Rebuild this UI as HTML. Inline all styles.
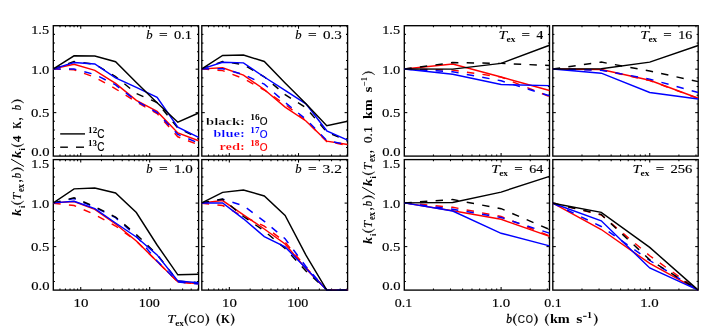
<!DOCTYPE html>
<html><head><meta charset="utf-8"><title>Chart</title>
<style>html,body{margin:0;padding:0;background:#fff;}svg{display:block;font-family:"Liberation Serif",serif;will-change:transform;}</style>
</head><body>
<svg width="709" height="334" viewBox="0 0 709 334" font-family="'Liberation Serif', serif">
<rect width="709" height="334" fill="#fff"/>
<defs>
<clipPath id="cL00"><rect x="53.00" y="25.70" width="145.90" height="131.30"/></clipPath>
<clipPath id="cL01"><rect x="201.50" y="25.70" width="146.40" height="131.30"/></clipPath>
<clipPath id="cL10"><rect x="53.00" y="159.60" width="145.90" height="131.40"/></clipPath>
<clipPath id="cL11"><rect x="201.50" y="159.60" width="146.40" height="131.40"/></clipPath>
<clipPath id="cR00"><rect x="404.00" y="25.70" width="145.80" height="131.30"/></clipPath>
<clipPath id="cR01"><rect x="552.50" y="25.70" width="146.00" height="131.30"/></clipPath>
<clipPath id="cR10"><rect x="404.00" y="159.60" width="145.80" height="131.40"/></clipPath>
<clipPath id="cR11"><rect x="552.50" y="159.60" width="146.00" height="131.40"/></clipPath>
</defs>
<rect x="53.30" y="25.70" width="145.30" height="130.40" fill="none" stroke="#000" stroke-width="1.35"/>
<line x1="80.74" y1="156.10" x2="80.74" y2="153.10" stroke="#000" stroke-width="1.05" />
<line x1="80.74" y1="25.70" x2="80.74" y2="28.70" stroke="#000" stroke-width="1.05" />
<line x1="149.69" y1="156.10" x2="149.69" y2="153.10" stroke="#000" stroke-width="1.05" />
<line x1="149.69" y1="25.70" x2="149.69" y2="28.70" stroke="#000" stroke-width="1.05" />
<line x1="59.98" y1="156.10" x2="59.98" y2="154.50" stroke="#000" stroke-width="1.05" />
<line x1="59.98" y1="25.70" x2="59.98" y2="27.30" stroke="#000" stroke-width="1.05" />
<line x1="65.44" y1="156.10" x2="65.44" y2="154.50" stroke="#000" stroke-width="1.05" />
<line x1="65.44" y1="25.70" x2="65.44" y2="27.30" stroke="#000" stroke-width="1.05" />
<line x1="70.06" y1="156.10" x2="70.06" y2="154.50" stroke="#000" stroke-width="1.05" />
<line x1="70.06" y1="25.70" x2="70.06" y2="27.30" stroke="#000" stroke-width="1.05" />
<line x1="74.06" y1="156.10" x2="74.06" y2="154.50" stroke="#000" stroke-width="1.05" />
<line x1="74.06" y1="25.70" x2="74.06" y2="27.30" stroke="#000" stroke-width="1.05" />
<line x1="77.58" y1="156.10" x2="77.58" y2="154.50" stroke="#000" stroke-width="1.05" />
<line x1="77.58" y1="25.70" x2="77.58" y2="27.30" stroke="#000" stroke-width="1.05" />
<line x1="101.50" y1="156.10" x2="101.50" y2="154.50" stroke="#000" stroke-width="1.05" />
<line x1="101.50" y1="25.70" x2="101.50" y2="27.30" stroke="#000" stroke-width="1.05" />
<line x1="113.64" y1="156.10" x2="113.64" y2="154.50" stroke="#000" stroke-width="1.05" />
<line x1="113.64" y1="25.70" x2="113.64" y2="27.30" stroke="#000" stroke-width="1.05" />
<line x1="122.25" y1="156.10" x2="122.25" y2="154.50" stroke="#000" stroke-width="1.05" />
<line x1="122.25" y1="25.70" x2="122.25" y2="27.30" stroke="#000" stroke-width="1.05" />
<line x1="128.94" y1="156.10" x2="128.94" y2="154.50" stroke="#000" stroke-width="1.05" />
<line x1="128.94" y1="25.70" x2="128.94" y2="27.30" stroke="#000" stroke-width="1.05" />
<line x1="134.40" y1="156.10" x2="134.40" y2="154.50" stroke="#000" stroke-width="1.05" />
<line x1="134.40" y1="25.70" x2="134.40" y2="27.30" stroke="#000" stroke-width="1.05" />
<line x1="139.01" y1="156.10" x2="139.01" y2="154.50" stroke="#000" stroke-width="1.05" />
<line x1="139.01" y1="25.70" x2="139.01" y2="27.30" stroke="#000" stroke-width="1.05" />
<line x1="143.01" y1="156.10" x2="143.01" y2="154.50" stroke="#000" stroke-width="1.05" />
<line x1="143.01" y1="25.70" x2="143.01" y2="27.30" stroke="#000" stroke-width="1.05" />
<line x1="146.54" y1="156.10" x2="146.54" y2="154.50" stroke="#000" stroke-width="1.05" />
<line x1="146.54" y1="25.70" x2="146.54" y2="27.30" stroke="#000" stroke-width="1.05" />
<line x1="170.45" y1="156.10" x2="170.45" y2="154.50" stroke="#000" stroke-width="1.05" />
<line x1="170.45" y1="25.70" x2="170.45" y2="27.30" stroke="#000" stroke-width="1.05" />
<line x1="182.59" y1="156.10" x2="182.59" y2="154.50" stroke="#000" stroke-width="1.05" />
<line x1="182.59" y1="25.70" x2="182.59" y2="27.30" stroke="#000" stroke-width="1.05" />
<line x1="191.21" y1="156.10" x2="191.21" y2="154.50" stroke="#000" stroke-width="1.05" />
<line x1="191.21" y1="25.70" x2="191.21" y2="27.30" stroke="#000" stroke-width="1.05" />
<line x1="197.89" y1="156.10" x2="197.89" y2="154.50" stroke="#000" stroke-width="1.05" />
<line x1="197.89" y1="25.70" x2="197.89" y2="27.30" stroke="#000" stroke-width="1.05" />
<line x1="53.30" y1="147.41" x2="54.90" y2="147.41" stroke="#000" stroke-width="1.05" />
<line x1="198.60" y1="147.41" x2="197.00" y2="147.41" stroke="#000" stroke-width="1.05" />
<line x1="53.30" y1="138.71" x2="54.90" y2="138.71" stroke="#000" stroke-width="1.05" />
<line x1="198.60" y1="138.71" x2="197.00" y2="138.71" stroke="#000" stroke-width="1.05" />
<line x1="53.30" y1="130.02" x2="54.90" y2="130.02" stroke="#000" stroke-width="1.05" />
<line x1="198.60" y1="130.02" x2="197.00" y2="130.02" stroke="#000" stroke-width="1.05" />
<line x1="53.30" y1="121.33" x2="54.90" y2="121.33" stroke="#000" stroke-width="1.05" />
<line x1="198.60" y1="121.33" x2="197.00" y2="121.33" stroke="#000" stroke-width="1.05" />
<line x1="53.30" y1="112.63" x2="56.30" y2="112.63" stroke="#000" stroke-width="1.05" />
<line x1="198.60" y1="112.63" x2="195.60" y2="112.63" stroke="#000" stroke-width="1.05" />
<line x1="53.30" y1="103.94" x2="54.90" y2="103.94" stroke="#000" stroke-width="1.05" />
<line x1="198.60" y1="103.94" x2="197.00" y2="103.94" stroke="#000" stroke-width="1.05" />
<line x1="53.30" y1="95.25" x2="54.90" y2="95.25" stroke="#000" stroke-width="1.05" />
<line x1="198.60" y1="95.25" x2="197.00" y2="95.25" stroke="#000" stroke-width="1.05" />
<line x1="53.30" y1="86.55" x2="54.90" y2="86.55" stroke="#000" stroke-width="1.05" />
<line x1="198.60" y1="86.55" x2="197.00" y2="86.55" stroke="#000" stroke-width="1.05" />
<line x1="53.30" y1="77.86" x2="54.90" y2="77.86" stroke="#000" stroke-width="1.05" />
<line x1="198.60" y1="77.86" x2="197.00" y2="77.86" stroke="#000" stroke-width="1.05" />
<line x1="53.30" y1="69.17" x2="56.30" y2="69.17" stroke="#000" stroke-width="1.05" />
<line x1="198.60" y1="69.17" x2="195.60" y2="69.17" stroke="#000" stroke-width="1.05" />
<line x1="53.30" y1="60.47" x2="54.90" y2="60.47" stroke="#000" stroke-width="1.05" />
<line x1="198.60" y1="60.47" x2="197.00" y2="60.47" stroke="#000" stroke-width="1.05" />
<line x1="53.30" y1="51.78" x2="54.90" y2="51.78" stroke="#000" stroke-width="1.05" />
<line x1="198.60" y1="51.78" x2="197.00" y2="51.78" stroke="#000" stroke-width="1.05" />
<line x1="53.30" y1="43.09" x2="54.90" y2="43.09" stroke="#000" stroke-width="1.05" />
<line x1="198.60" y1="43.09" x2="197.00" y2="43.09" stroke="#000" stroke-width="1.05" />
<line x1="53.30" y1="34.39" x2="54.90" y2="34.39" stroke="#000" stroke-width="1.05" />
<line x1="198.60" y1="34.39" x2="197.00" y2="34.39" stroke="#000" stroke-width="1.05" />
<g clip-path="url(#cL00)" fill="none" stroke-width="1.45" stroke-linejoin="miter" stroke-linecap="butt">
<polyline points="53.30,68.90 74.06,64.30 94.81,70.30 115.57,83.40 136.33,100.40 157.09,111.40 177.84,132.90 198.60,140.80" stroke="#ff0000"/>
<polyline points="53.30,68.90 74.06,69.80 94.81,77.30 115.57,88.80 136.33,102.00 157.09,113.50 177.84,136.80 198.60,144.80" stroke="#ff0000" stroke-dasharray="7.4 8.3"/>
<polyline points="53.30,68.90 74.06,69.00 94.81,74.50 115.57,84.90 136.33,101.00 157.09,112.50 177.84,134.50 198.60,143.00" stroke="#0000ff" stroke-dasharray="7.4 8.3"/>
<polyline points="53.30,68.90 74.06,61.60 94.81,64.20 115.57,76.60 136.33,93.50 157.09,102.50 177.84,128.00 198.60,138.00" stroke="#000" stroke-dasharray="7.4 8.3"/>
<polyline points="53.30,68.90 74.06,62.50 94.81,64.00 115.57,77.80 136.33,87.40 157.09,97.30 177.84,127.20 198.60,137.40" stroke="#0000ff"/>
<polyline points="53.30,68.90 74.06,55.80 94.81,56.00 115.57,61.70 136.33,82.50 157.09,102.80 177.84,122.20 198.60,113.00" stroke="#000"/>
</g>
<rect x="201.80" y="25.70" width="145.80" height="130.40" fill="none" stroke="#000" stroke-width="1.35"/>
<line x1="229.33" y1="156.10" x2="229.33" y2="153.10" stroke="#000" stroke-width="1.05" />
<line x1="229.33" y1="25.70" x2="229.33" y2="28.70" stroke="#000" stroke-width="1.05" />
<line x1="298.52" y1="156.10" x2="298.52" y2="153.10" stroke="#000" stroke-width="1.05" />
<line x1="298.52" y1="25.70" x2="298.52" y2="28.70" stroke="#000" stroke-width="1.05" />
<line x1="208.51" y1="156.10" x2="208.51" y2="154.50" stroke="#000" stroke-width="1.05" />
<line x1="208.51" y1="25.70" x2="208.51" y2="27.30" stroke="#000" stroke-width="1.05" />
<line x1="213.98" y1="156.10" x2="213.98" y2="154.50" stroke="#000" stroke-width="1.05" />
<line x1="213.98" y1="25.70" x2="213.98" y2="27.30" stroke="#000" stroke-width="1.05" />
<line x1="218.62" y1="156.10" x2="218.62" y2="154.50" stroke="#000" stroke-width="1.05" />
<line x1="218.62" y1="25.70" x2="218.62" y2="27.30" stroke="#000" stroke-width="1.05" />
<line x1="222.63" y1="156.10" x2="222.63" y2="154.50" stroke="#000" stroke-width="1.05" />
<line x1="222.63" y1="25.70" x2="222.63" y2="27.30" stroke="#000" stroke-width="1.05" />
<line x1="226.17" y1="156.10" x2="226.17" y2="154.50" stroke="#000" stroke-width="1.05" />
<line x1="226.17" y1="25.70" x2="226.17" y2="27.30" stroke="#000" stroke-width="1.05" />
<line x1="250.16" y1="156.10" x2="250.16" y2="154.50" stroke="#000" stroke-width="1.05" />
<line x1="250.16" y1="25.70" x2="250.16" y2="27.30" stroke="#000" stroke-width="1.05" />
<line x1="262.35" y1="156.10" x2="262.35" y2="154.50" stroke="#000" stroke-width="1.05" />
<line x1="262.35" y1="25.70" x2="262.35" y2="27.30" stroke="#000" stroke-width="1.05" />
<line x1="270.99" y1="156.10" x2="270.99" y2="154.50" stroke="#000" stroke-width="1.05" />
<line x1="270.99" y1="25.70" x2="270.99" y2="27.30" stroke="#000" stroke-width="1.05" />
<line x1="277.70" y1="156.10" x2="277.70" y2="154.50" stroke="#000" stroke-width="1.05" />
<line x1="277.70" y1="25.70" x2="277.70" y2="27.30" stroke="#000" stroke-width="1.05" />
<line x1="283.17" y1="156.10" x2="283.17" y2="154.50" stroke="#000" stroke-width="1.05" />
<line x1="283.17" y1="25.70" x2="283.17" y2="27.30" stroke="#000" stroke-width="1.05" />
<line x1="287.81" y1="156.10" x2="287.81" y2="154.50" stroke="#000" stroke-width="1.05" />
<line x1="287.81" y1="25.70" x2="287.81" y2="27.30" stroke="#000" stroke-width="1.05" />
<line x1="291.82" y1="156.10" x2="291.82" y2="154.50" stroke="#000" stroke-width="1.05" />
<line x1="291.82" y1="25.70" x2="291.82" y2="27.30" stroke="#000" stroke-width="1.05" />
<line x1="295.36" y1="156.10" x2="295.36" y2="154.50" stroke="#000" stroke-width="1.05" />
<line x1="295.36" y1="25.70" x2="295.36" y2="27.30" stroke="#000" stroke-width="1.05" />
<line x1="319.35" y1="156.10" x2="319.35" y2="154.50" stroke="#000" stroke-width="1.05" />
<line x1="319.35" y1="25.70" x2="319.35" y2="27.30" stroke="#000" stroke-width="1.05" />
<line x1="331.54" y1="156.10" x2="331.54" y2="154.50" stroke="#000" stroke-width="1.05" />
<line x1="331.54" y1="25.70" x2="331.54" y2="27.30" stroke="#000" stroke-width="1.05" />
<line x1="340.18" y1="156.10" x2="340.18" y2="154.50" stroke="#000" stroke-width="1.05" />
<line x1="340.18" y1="25.70" x2="340.18" y2="27.30" stroke="#000" stroke-width="1.05" />
<line x1="346.89" y1="156.10" x2="346.89" y2="154.50" stroke="#000" stroke-width="1.05" />
<line x1="346.89" y1="25.70" x2="346.89" y2="27.30" stroke="#000" stroke-width="1.05" />
<line x1="201.80" y1="147.41" x2="203.40" y2="147.41" stroke="#000" stroke-width="1.05" />
<line x1="347.60" y1="147.41" x2="346.00" y2="147.41" stroke="#000" stroke-width="1.05" />
<line x1="201.80" y1="138.71" x2="203.40" y2="138.71" stroke="#000" stroke-width="1.05" />
<line x1="347.60" y1="138.71" x2="346.00" y2="138.71" stroke="#000" stroke-width="1.05" />
<line x1="201.80" y1="130.02" x2="203.40" y2="130.02" stroke="#000" stroke-width="1.05" />
<line x1="347.60" y1="130.02" x2="346.00" y2="130.02" stroke="#000" stroke-width="1.05" />
<line x1="201.80" y1="121.33" x2="203.40" y2="121.33" stroke="#000" stroke-width="1.05" />
<line x1="347.60" y1="121.33" x2="346.00" y2="121.33" stroke="#000" stroke-width="1.05" />
<line x1="201.80" y1="112.63" x2="204.80" y2="112.63" stroke="#000" stroke-width="1.05" />
<line x1="347.60" y1="112.63" x2="344.60" y2="112.63" stroke="#000" stroke-width="1.05" />
<line x1="201.80" y1="103.94" x2="203.40" y2="103.94" stroke="#000" stroke-width="1.05" />
<line x1="347.60" y1="103.94" x2="346.00" y2="103.94" stroke="#000" stroke-width="1.05" />
<line x1="201.80" y1="95.25" x2="203.40" y2="95.25" stroke="#000" stroke-width="1.05" />
<line x1="347.60" y1="95.25" x2="346.00" y2="95.25" stroke="#000" stroke-width="1.05" />
<line x1="201.80" y1="86.55" x2="203.40" y2="86.55" stroke="#000" stroke-width="1.05" />
<line x1="347.60" y1="86.55" x2="346.00" y2="86.55" stroke="#000" stroke-width="1.05" />
<line x1="201.80" y1="77.86" x2="203.40" y2="77.86" stroke="#000" stroke-width="1.05" />
<line x1="347.60" y1="77.86" x2="346.00" y2="77.86" stroke="#000" stroke-width="1.05" />
<line x1="201.80" y1="69.17" x2="204.80" y2="69.17" stroke="#000" stroke-width="1.05" />
<line x1="347.60" y1="69.17" x2="344.60" y2="69.17" stroke="#000" stroke-width="1.05" />
<line x1="201.80" y1="60.47" x2="203.40" y2="60.47" stroke="#000" stroke-width="1.05" />
<line x1="347.60" y1="60.47" x2="346.00" y2="60.47" stroke="#000" stroke-width="1.05" />
<line x1="201.80" y1="51.78" x2="203.40" y2="51.78" stroke="#000" stroke-width="1.05" />
<line x1="347.60" y1="51.78" x2="346.00" y2="51.78" stroke="#000" stroke-width="1.05" />
<line x1="201.80" y1="43.09" x2="203.40" y2="43.09" stroke="#000" stroke-width="1.05" />
<line x1="347.60" y1="43.09" x2="346.00" y2="43.09" stroke="#000" stroke-width="1.05" />
<line x1="201.80" y1="34.39" x2="203.40" y2="34.39" stroke="#000" stroke-width="1.05" />
<line x1="347.60" y1="34.39" x2="346.00" y2="34.39" stroke="#000" stroke-width="1.05" />
<g clip-path="url(#cL01)" fill="none" stroke-width="1.45" stroke-linejoin="miter" stroke-linecap="butt">
<polyline points="201.80,68.90 222.63,67.80 243.46,75.10 264.29,89.50 285.11,107.10 305.94,121.00 326.77,141.10 347.60,144.50" stroke="#ff0000"/>
<polyline points="201.80,68.90 222.63,70.60 243.46,78.60 264.29,90.00 285.11,104.30 305.94,120.60 326.77,141.60 347.60,145.30" stroke="#ff0000" stroke-dasharray="7.4 8.3"/>
<polyline points="201.80,68.90 222.63,68.70 243.46,74.40 264.29,84.20 285.11,102.40 305.94,119.20 326.77,140.60 347.60,144.80" stroke="#0000ff" stroke-dasharray="7.4 8.3"/>
<polyline points="201.80,68.90 222.63,61.50 243.46,64.60 264.29,76.80 285.11,94.60 305.94,107.70 326.77,132.00 347.60,141.00" stroke="#000" stroke-dasharray="7.4 8.3"/>
<polyline points="201.80,68.90 222.63,62.30 243.46,62.90 264.29,77.00 285.11,90.40 305.94,103.80 326.77,130.80 347.60,140.20" stroke="#0000ff"/>
<polyline points="201.80,68.90 222.63,55.50 243.46,55.00 264.29,61.50 285.11,82.90 305.94,103.80 326.77,125.80 347.60,121.20" stroke="#000"/>
</g>
<rect x="404.30" y="25.70" width="145.20" height="130.40" fill="none" stroke="#000" stroke-width="1.35"/>
<line x1="501.10" y1="156.10" x2="501.10" y2="153.10" stroke="#000" stroke-width="1.05" />
<line x1="501.10" y1="25.70" x2="501.10" y2="28.70" stroke="#000" stroke-width="1.05" />
<line x1="433.44" y1="156.10" x2="433.44" y2="154.50" stroke="#000" stroke-width="1.05" />
<line x1="433.44" y1="25.70" x2="433.44" y2="27.30" stroke="#000" stroke-width="1.05" />
<line x1="450.49" y1="156.10" x2="450.49" y2="154.50" stroke="#000" stroke-width="1.05" />
<line x1="450.49" y1="25.70" x2="450.49" y2="27.30" stroke="#000" stroke-width="1.05" />
<line x1="462.58" y1="156.10" x2="462.58" y2="154.50" stroke="#000" stroke-width="1.05" />
<line x1="462.58" y1="25.70" x2="462.58" y2="27.30" stroke="#000" stroke-width="1.05" />
<line x1="471.96" y1="156.10" x2="471.96" y2="154.50" stroke="#000" stroke-width="1.05" />
<line x1="471.96" y1="25.70" x2="471.96" y2="27.30" stroke="#000" stroke-width="1.05" />
<line x1="479.63" y1="156.10" x2="479.63" y2="154.50" stroke="#000" stroke-width="1.05" />
<line x1="479.63" y1="25.70" x2="479.63" y2="27.30" stroke="#000" stroke-width="1.05" />
<line x1="486.11" y1="156.10" x2="486.11" y2="154.50" stroke="#000" stroke-width="1.05" />
<line x1="486.11" y1="25.70" x2="486.11" y2="27.30" stroke="#000" stroke-width="1.05" />
<line x1="491.72" y1="156.10" x2="491.72" y2="154.50" stroke="#000" stroke-width="1.05" />
<line x1="491.72" y1="25.70" x2="491.72" y2="27.30" stroke="#000" stroke-width="1.05" />
<line x1="496.67" y1="156.10" x2="496.67" y2="154.50" stroke="#000" stroke-width="1.05" />
<line x1="496.67" y1="25.70" x2="496.67" y2="27.30" stroke="#000" stroke-width="1.05" />
<line x1="530.24" y1="156.10" x2="530.24" y2="154.50" stroke="#000" stroke-width="1.05" />
<line x1="530.24" y1="25.70" x2="530.24" y2="27.30" stroke="#000" stroke-width="1.05" />
<line x1="547.29" y1="156.10" x2="547.29" y2="154.50" stroke="#000" stroke-width="1.05" />
<line x1="547.29" y1="25.70" x2="547.29" y2="27.30" stroke="#000" stroke-width="1.05" />
<line x1="404.30" y1="147.41" x2="405.90" y2="147.41" stroke="#000" stroke-width="1.05" />
<line x1="549.50" y1="147.41" x2="547.90" y2="147.41" stroke="#000" stroke-width="1.05" />
<line x1="404.30" y1="138.71" x2="405.90" y2="138.71" stroke="#000" stroke-width="1.05" />
<line x1="549.50" y1="138.71" x2="547.90" y2="138.71" stroke="#000" stroke-width="1.05" />
<line x1="404.30" y1="130.02" x2="405.90" y2="130.02" stroke="#000" stroke-width="1.05" />
<line x1="549.50" y1="130.02" x2="547.90" y2="130.02" stroke="#000" stroke-width="1.05" />
<line x1="404.30" y1="121.33" x2="405.90" y2="121.33" stroke="#000" stroke-width="1.05" />
<line x1="549.50" y1="121.33" x2="547.90" y2="121.33" stroke="#000" stroke-width="1.05" />
<line x1="404.30" y1="112.63" x2="407.30" y2="112.63" stroke="#000" stroke-width="1.05" />
<line x1="549.50" y1="112.63" x2="546.50" y2="112.63" stroke="#000" stroke-width="1.05" />
<line x1="404.30" y1="103.94" x2="405.90" y2="103.94" stroke="#000" stroke-width="1.05" />
<line x1="549.50" y1="103.94" x2="547.90" y2="103.94" stroke="#000" stroke-width="1.05" />
<line x1="404.30" y1="95.25" x2="405.90" y2="95.25" stroke="#000" stroke-width="1.05" />
<line x1="549.50" y1="95.25" x2="547.90" y2="95.25" stroke="#000" stroke-width="1.05" />
<line x1="404.30" y1="86.55" x2="405.90" y2="86.55" stroke="#000" stroke-width="1.05" />
<line x1="549.50" y1="86.55" x2="547.90" y2="86.55" stroke="#000" stroke-width="1.05" />
<line x1="404.30" y1="77.86" x2="405.90" y2="77.86" stroke="#000" stroke-width="1.05" />
<line x1="549.50" y1="77.86" x2="547.90" y2="77.86" stroke="#000" stroke-width="1.05" />
<line x1="404.30" y1="69.17" x2="407.30" y2="69.17" stroke="#000" stroke-width="1.05" />
<line x1="549.50" y1="69.17" x2="546.50" y2="69.17" stroke="#000" stroke-width="1.05" />
<line x1="404.30" y1="60.47" x2="405.90" y2="60.47" stroke="#000" stroke-width="1.05" />
<line x1="549.50" y1="60.47" x2="547.90" y2="60.47" stroke="#000" stroke-width="1.05" />
<line x1="404.30" y1="51.78" x2="405.90" y2="51.78" stroke="#000" stroke-width="1.05" />
<line x1="549.50" y1="51.78" x2="547.90" y2="51.78" stroke="#000" stroke-width="1.05" />
<line x1="404.30" y1="43.09" x2="405.90" y2="43.09" stroke="#000" stroke-width="1.05" />
<line x1="549.50" y1="43.09" x2="547.90" y2="43.09" stroke="#000" stroke-width="1.05" />
<line x1="404.30" y1="34.39" x2="405.90" y2="34.39" stroke="#000" stroke-width="1.05" />
<line x1="549.50" y1="34.39" x2="547.90" y2="34.39" stroke="#000" stroke-width="1.05" />
<g clip-path="url(#cR00)" fill="none" stroke-width="1.45" stroke-linejoin="miter" stroke-linecap="butt">
<polyline points="404.30,69.00 452.70,64.00 501.10,77.00 549.50,90.50" stroke="#ff0000"/>
<polyline points="404.30,69.00 452.70,70.10 501.10,77.10 549.50,96.60" stroke="#ff0000" stroke-dasharray="7.4 8.3"/>
<polyline points="404.30,69.00 452.70,71.80 501.10,80.80 549.50,95.80" stroke="#0000ff" stroke-dasharray="7.4 8.3"/>
<polyline points="404.30,69.00 452.70,62.60 501.10,63.40 549.50,65.50" stroke="#000" stroke-dasharray="7.4 8.3"/>
<polyline points="404.30,69.00 452.70,74.30 501.10,84.50 549.50,85.60" stroke="#0000ff"/>
<polyline points="404.30,69.00 452.70,69.10 501.10,63.40 549.50,45.20" stroke="#000"/>
</g>
<rect x="552.80" y="25.70" width="145.40" height="130.40" fill="none" stroke="#000" stroke-width="1.35"/>
<line x1="649.73" y1="156.10" x2="649.73" y2="153.10" stroke="#000" stroke-width="1.05" />
<line x1="649.73" y1="25.70" x2="649.73" y2="28.70" stroke="#000" stroke-width="1.05" />
<line x1="581.98" y1="156.10" x2="581.98" y2="154.50" stroke="#000" stroke-width="1.05" />
<line x1="581.98" y1="25.70" x2="581.98" y2="27.30" stroke="#000" stroke-width="1.05" />
<line x1="599.05" y1="156.10" x2="599.05" y2="154.50" stroke="#000" stroke-width="1.05" />
<line x1="599.05" y1="25.70" x2="599.05" y2="27.30" stroke="#000" stroke-width="1.05" />
<line x1="611.16" y1="156.10" x2="611.16" y2="154.50" stroke="#000" stroke-width="1.05" />
<line x1="611.16" y1="25.70" x2="611.16" y2="27.30" stroke="#000" stroke-width="1.05" />
<line x1="620.55" y1="156.10" x2="620.55" y2="154.50" stroke="#000" stroke-width="1.05" />
<line x1="620.55" y1="25.70" x2="620.55" y2="27.30" stroke="#000" stroke-width="1.05" />
<line x1="628.23" y1="156.10" x2="628.23" y2="154.50" stroke="#000" stroke-width="1.05" />
<line x1="628.23" y1="25.70" x2="628.23" y2="27.30" stroke="#000" stroke-width="1.05" />
<line x1="634.72" y1="156.10" x2="634.72" y2="154.50" stroke="#000" stroke-width="1.05" />
<line x1="634.72" y1="25.70" x2="634.72" y2="27.30" stroke="#000" stroke-width="1.05" />
<line x1="640.34" y1="156.10" x2="640.34" y2="154.50" stroke="#000" stroke-width="1.05" />
<line x1="640.34" y1="25.70" x2="640.34" y2="27.30" stroke="#000" stroke-width="1.05" />
<line x1="645.30" y1="156.10" x2="645.30" y2="154.50" stroke="#000" stroke-width="1.05" />
<line x1="645.30" y1="25.70" x2="645.30" y2="27.30" stroke="#000" stroke-width="1.05" />
<line x1="678.91" y1="156.10" x2="678.91" y2="154.50" stroke="#000" stroke-width="1.05" />
<line x1="678.91" y1="25.70" x2="678.91" y2="27.30" stroke="#000" stroke-width="1.05" />
<line x1="695.98" y1="156.10" x2="695.98" y2="154.50" stroke="#000" stroke-width="1.05" />
<line x1="695.98" y1="25.70" x2="695.98" y2="27.30" stroke="#000" stroke-width="1.05" />
<line x1="552.80" y1="147.41" x2="554.40" y2="147.41" stroke="#000" stroke-width="1.05" />
<line x1="698.20" y1="147.41" x2="696.60" y2="147.41" stroke="#000" stroke-width="1.05" />
<line x1="552.80" y1="138.71" x2="554.40" y2="138.71" stroke="#000" stroke-width="1.05" />
<line x1="698.20" y1="138.71" x2="696.60" y2="138.71" stroke="#000" stroke-width="1.05" />
<line x1="552.80" y1="130.02" x2="554.40" y2="130.02" stroke="#000" stroke-width="1.05" />
<line x1="698.20" y1="130.02" x2="696.60" y2="130.02" stroke="#000" stroke-width="1.05" />
<line x1="552.80" y1="121.33" x2="554.40" y2="121.33" stroke="#000" stroke-width="1.05" />
<line x1="698.20" y1="121.33" x2="696.60" y2="121.33" stroke="#000" stroke-width="1.05" />
<line x1="552.80" y1="112.63" x2="555.80" y2="112.63" stroke="#000" stroke-width="1.05" />
<line x1="698.20" y1="112.63" x2="695.20" y2="112.63" stroke="#000" stroke-width="1.05" />
<line x1="552.80" y1="103.94" x2="554.40" y2="103.94" stroke="#000" stroke-width="1.05" />
<line x1="698.20" y1="103.94" x2="696.60" y2="103.94" stroke="#000" stroke-width="1.05" />
<line x1="552.80" y1="95.25" x2="554.40" y2="95.25" stroke="#000" stroke-width="1.05" />
<line x1="698.20" y1="95.25" x2="696.60" y2="95.25" stroke="#000" stroke-width="1.05" />
<line x1="552.80" y1="86.55" x2="554.40" y2="86.55" stroke="#000" stroke-width="1.05" />
<line x1="698.20" y1="86.55" x2="696.60" y2="86.55" stroke="#000" stroke-width="1.05" />
<line x1="552.80" y1="77.86" x2="554.40" y2="77.86" stroke="#000" stroke-width="1.05" />
<line x1="698.20" y1="77.86" x2="696.60" y2="77.86" stroke="#000" stroke-width="1.05" />
<line x1="552.80" y1="69.17" x2="555.80" y2="69.17" stroke="#000" stroke-width="1.05" />
<line x1="698.20" y1="69.17" x2="695.20" y2="69.17" stroke="#000" stroke-width="1.05" />
<line x1="552.80" y1="60.47" x2="554.40" y2="60.47" stroke="#000" stroke-width="1.05" />
<line x1="698.20" y1="60.47" x2="696.60" y2="60.47" stroke="#000" stroke-width="1.05" />
<line x1="552.80" y1="51.78" x2="554.40" y2="51.78" stroke="#000" stroke-width="1.05" />
<line x1="698.20" y1="51.78" x2="696.60" y2="51.78" stroke="#000" stroke-width="1.05" />
<line x1="552.80" y1="43.09" x2="554.40" y2="43.09" stroke="#000" stroke-width="1.05" />
<line x1="698.20" y1="43.09" x2="696.60" y2="43.09" stroke="#000" stroke-width="1.05" />
<line x1="552.80" y1="34.39" x2="554.40" y2="34.39" stroke="#000" stroke-width="1.05" />
<line x1="698.20" y1="34.39" x2="696.60" y2="34.39" stroke="#000" stroke-width="1.05" />
<g clip-path="url(#cR01)" fill="none" stroke-width="1.45" stroke-linejoin="miter" stroke-linecap="butt">
<polyline points="552.80,69.00 601.27,69.50 649.73,80.20 698.20,98.20" stroke="#ff0000"/>
<polyline points="552.80,69.00 601.27,70.00 649.73,80.50 698.20,98.50" stroke="#ff0000" stroke-dasharray="7.4 8.3"/>
<polyline points="552.80,69.00 601.27,70.20 649.73,79.10 698.20,92.50" stroke="#0000ff" stroke-dasharray="7.4 8.3"/>
<polyline points="552.80,69.00 601.27,62.10 649.73,71.00 698.20,81.60" stroke="#000" stroke-dasharray="7.4 8.3"/>
<polyline points="552.80,69.00 601.27,73.20 649.73,92.50 698.20,99.00" stroke="#0000ff"/>
<polyline points="552.80,69.00 601.27,68.70 649.73,62.10 698.20,45.50" stroke="#000"/>
</g>
<rect x="53.30" y="159.60" width="145.30" height="130.50" fill="none" stroke="#000" stroke-width="1.35"/>
<line x1="80.74" y1="290.10" x2="80.74" y2="287.10" stroke="#000" stroke-width="1.05" />
<line x1="80.74" y1="159.60" x2="80.74" y2="162.60" stroke="#000" stroke-width="1.05" />
<line x1="149.69" y1="290.10" x2="149.69" y2="287.10" stroke="#000" stroke-width="1.05" />
<line x1="149.69" y1="159.60" x2="149.69" y2="162.60" stroke="#000" stroke-width="1.05" />
<line x1="59.98" y1="290.10" x2="59.98" y2="288.50" stroke="#000" stroke-width="1.05" />
<line x1="59.98" y1="159.60" x2="59.98" y2="161.20" stroke="#000" stroke-width="1.05" />
<line x1="65.44" y1="290.10" x2="65.44" y2="288.50" stroke="#000" stroke-width="1.05" />
<line x1="65.44" y1="159.60" x2="65.44" y2="161.20" stroke="#000" stroke-width="1.05" />
<line x1="70.06" y1="290.10" x2="70.06" y2="288.50" stroke="#000" stroke-width="1.05" />
<line x1="70.06" y1="159.60" x2="70.06" y2="161.20" stroke="#000" stroke-width="1.05" />
<line x1="74.06" y1="290.10" x2="74.06" y2="288.50" stroke="#000" stroke-width="1.05" />
<line x1="74.06" y1="159.60" x2="74.06" y2="161.20" stroke="#000" stroke-width="1.05" />
<line x1="77.58" y1="290.10" x2="77.58" y2="288.50" stroke="#000" stroke-width="1.05" />
<line x1="77.58" y1="159.60" x2="77.58" y2="161.20" stroke="#000" stroke-width="1.05" />
<line x1="101.50" y1="290.10" x2="101.50" y2="288.50" stroke="#000" stroke-width="1.05" />
<line x1="101.50" y1="159.60" x2="101.50" y2="161.20" stroke="#000" stroke-width="1.05" />
<line x1="113.64" y1="290.10" x2="113.64" y2="288.50" stroke="#000" stroke-width="1.05" />
<line x1="113.64" y1="159.60" x2="113.64" y2="161.20" stroke="#000" stroke-width="1.05" />
<line x1="122.25" y1="290.10" x2="122.25" y2="288.50" stroke="#000" stroke-width="1.05" />
<line x1="122.25" y1="159.60" x2="122.25" y2="161.20" stroke="#000" stroke-width="1.05" />
<line x1="128.94" y1="290.10" x2="128.94" y2="288.50" stroke="#000" stroke-width="1.05" />
<line x1="128.94" y1="159.60" x2="128.94" y2="161.20" stroke="#000" stroke-width="1.05" />
<line x1="134.40" y1="290.10" x2="134.40" y2="288.50" stroke="#000" stroke-width="1.05" />
<line x1="134.40" y1="159.60" x2="134.40" y2="161.20" stroke="#000" stroke-width="1.05" />
<line x1="139.01" y1="290.10" x2="139.01" y2="288.50" stroke="#000" stroke-width="1.05" />
<line x1="139.01" y1="159.60" x2="139.01" y2="161.20" stroke="#000" stroke-width="1.05" />
<line x1="143.01" y1="290.10" x2="143.01" y2="288.50" stroke="#000" stroke-width="1.05" />
<line x1="143.01" y1="159.60" x2="143.01" y2="161.20" stroke="#000" stroke-width="1.05" />
<line x1="146.54" y1="290.10" x2="146.54" y2="288.50" stroke="#000" stroke-width="1.05" />
<line x1="146.54" y1="159.60" x2="146.54" y2="161.20" stroke="#000" stroke-width="1.05" />
<line x1="170.45" y1="290.10" x2="170.45" y2="288.50" stroke="#000" stroke-width="1.05" />
<line x1="170.45" y1="159.60" x2="170.45" y2="161.20" stroke="#000" stroke-width="1.05" />
<line x1="182.59" y1="290.10" x2="182.59" y2="288.50" stroke="#000" stroke-width="1.05" />
<line x1="182.59" y1="159.60" x2="182.59" y2="161.20" stroke="#000" stroke-width="1.05" />
<line x1="191.21" y1="290.10" x2="191.21" y2="288.50" stroke="#000" stroke-width="1.05" />
<line x1="191.21" y1="159.60" x2="191.21" y2="161.20" stroke="#000" stroke-width="1.05" />
<line x1="197.89" y1="290.10" x2="197.89" y2="288.50" stroke="#000" stroke-width="1.05" />
<line x1="197.89" y1="159.60" x2="197.89" y2="161.20" stroke="#000" stroke-width="1.05" />
<line x1="53.30" y1="281.40" x2="54.90" y2="281.40" stroke="#000" stroke-width="1.05" />
<line x1="198.60" y1="281.40" x2="197.00" y2="281.40" stroke="#000" stroke-width="1.05" />
<line x1="53.30" y1="272.70" x2="54.90" y2="272.70" stroke="#000" stroke-width="1.05" />
<line x1="198.60" y1="272.70" x2="197.00" y2="272.70" stroke="#000" stroke-width="1.05" />
<line x1="53.30" y1="264.00" x2="54.90" y2="264.00" stroke="#000" stroke-width="1.05" />
<line x1="198.60" y1="264.00" x2="197.00" y2="264.00" stroke="#000" stroke-width="1.05" />
<line x1="53.30" y1="255.30" x2="54.90" y2="255.30" stroke="#000" stroke-width="1.05" />
<line x1="198.60" y1="255.30" x2="197.00" y2="255.30" stroke="#000" stroke-width="1.05" />
<line x1="53.30" y1="246.60" x2="56.30" y2="246.60" stroke="#000" stroke-width="1.05" />
<line x1="198.60" y1="246.60" x2="195.60" y2="246.60" stroke="#000" stroke-width="1.05" />
<line x1="53.30" y1="237.90" x2="54.90" y2="237.90" stroke="#000" stroke-width="1.05" />
<line x1="198.60" y1="237.90" x2="197.00" y2="237.90" stroke="#000" stroke-width="1.05" />
<line x1="53.30" y1="229.20" x2="54.90" y2="229.20" stroke="#000" stroke-width="1.05" />
<line x1="198.60" y1="229.20" x2="197.00" y2="229.20" stroke="#000" stroke-width="1.05" />
<line x1="53.30" y1="220.50" x2="54.90" y2="220.50" stroke="#000" stroke-width="1.05" />
<line x1="198.60" y1="220.50" x2="197.00" y2="220.50" stroke="#000" stroke-width="1.05" />
<line x1="53.30" y1="211.80" x2="54.90" y2="211.80" stroke="#000" stroke-width="1.05" />
<line x1="198.60" y1="211.80" x2="197.00" y2="211.80" stroke="#000" stroke-width="1.05" />
<line x1="53.30" y1="203.10" x2="56.30" y2="203.10" stroke="#000" stroke-width="1.05" />
<line x1="198.60" y1="203.10" x2="195.60" y2="203.10" stroke="#000" stroke-width="1.05" />
<line x1="53.30" y1="194.40" x2="54.90" y2="194.40" stroke="#000" stroke-width="1.05" />
<line x1="198.60" y1="194.40" x2="197.00" y2="194.40" stroke="#000" stroke-width="1.05" />
<line x1="53.30" y1="185.70" x2="54.90" y2="185.70" stroke="#000" stroke-width="1.05" />
<line x1="198.60" y1="185.70" x2="197.00" y2="185.70" stroke="#000" stroke-width="1.05" />
<line x1="53.30" y1="177.00" x2="54.90" y2="177.00" stroke="#000" stroke-width="1.05" />
<line x1="198.60" y1="177.00" x2="197.00" y2="177.00" stroke="#000" stroke-width="1.05" />
<line x1="53.30" y1="168.30" x2="54.90" y2="168.30" stroke="#000" stroke-width="1.05" />
<line x1="198.60" y1="168.30" x2="197.00" y2="168.30" stroke="#000" stroke-width="1.05" />
<g clip-path="url(#cL10)" fill="none" stroke-width="1.45" stroke-linejoin="miter" stroke-linecap="butt">
<polyline points="53.30,202.90 74.06,201.60 94.81,209.40 115.57,224.00 136.33,241.00 157.09,261.50 177.84,281.90 198.60,283.90" stroke="#ff0000"/>
<polyline points="53.30,203.20 74.06,205.50 94.81,214.60 115.57,226.00 136.33,241.00 157.09,261.50 177.84,281.90 198.60,283.90" stroke="#ff0000" stroke-dasharray="7.4 8.3"/>
<polyline points="53.30,202.90 74.06,198.50 94.81,207.40 115.57,217.70 136.33,236.00 157.09,260.90 177.84,282.00 198.60,284.00" stroke="#0000ff" stroke-dasharray="7.4 8.3"/>
<polyline points="53.30,202.90 74.06,197.80 94.81,206.70 115.57,217.00 136.33,234.50 157.09,254.50 177.84,281.00 198.60,282.70" stroke="#000" stroke-dasharray="7.4 8.3"/>
<polyline points="53.30,202.90 74.06,201.20 94.81,208.60 115.57,223.00 136.33,237.00 157.09,254.90 177.84,281.00 198.60,282.70" stroke="#0000ff"/>
<polyline points="53.30,202.90 74.06,188.90 94.81,188.00 115.57,193.00 136.33,212.50 157.09,245.00 177.84,274.80 198.60,274.20" stroke="#000"/>
</g>
<rect x="201.80" y="159.60" width="145.80" height="130.50" fill="none" stroke="#000" stroke-width="1.35"/>
<line x1="229.33" y1="290.10" x2="229.33" y2="287.10" stroke="#000" stroke-width="1.05" />
<line x1="229.33" y1="159.60" x2="229.33" y2="162.60" stroke="#000" stroke-width="1.05" />
<line x1="298.52" y1="290.10" x2="298.52" y2="287.10" stroke="#000" stroke-width="1.05" />
<line x1="298.52" y1="159.60" x2="298.52" y2="162.60" stroke="#000" stroke-width="1.05" />
<line x1="208.51" y1="290.10" x2="208.51" y2="288.50" stroke="#000" stroke-width="1.05" />
<line x1="208.51" y1="159.60" x2="208.51" y2="161.20" stroke="#000" stroke-width="1.05" />
<line x1="213.98" y1="290.10" x2="213.98" y2="288.50" stroke="#000" stroke-width="1.05" />
<line x1="213.98" y1="159.60" x2="213.98" y2="161.20" stroke="#000" stroke-width="1.05" />
<line x1="218.62" y1="290.10" x2="218.62" y2="288.50" stroke="#000" stroke-width="1.05" />
<line x1="218.62" y1="159.60" x2="218.62" y2="161.20" stroke="#000" stroke-width="1.05" />
<line x1="222.63" y1="290.10" x2="222.63" y2="288.50" stroke="#000" stroke-width="1.05" />
<line x1="222.63" y1="159.60" x2="222.63" y2="161.20" stroke="#000" stroke-width="1.05" />
<line x1="226.17" y1="290.10" x2="226.17" y2="288.50" stroke="#000" stroke-width="1.05" />
<line x1="226.17" y1="159.60" x2="226.17" y2="161.20" stroke="#000" stroke-width="1.05" />
<line x1="250.16" y1="290.10" x2="250.16" y2="288.50" stroke="#000" stroke-width="1.05" />
<line x1="250.16" y1="159.60" x2="250.16" y2="161.20" stroke="#000" stroke-width="1.05" />
<line x1="262.35" y1="290.10" x2="262.35" y2="288.50" stroke="#000" stroke-width="1.05" />
<line x1="262.35" y1="159.60" x2="262.35" y2="161.20" stroke="#000" stroke-width="1.05" />
<line x1="270.99" y1="290.10" x2="270.99" y2="288.50" stroke="#000" stroke-width="1.05" />
<line x1="270.99" y1="159.60" x2="270.99" y2="161.20" stroke="#000" stroke-width="1.05" />
<line x1="277.70" y1="290.10" x2="277.70" y2="288.50" stroke="#000" stroke-width="1.05" />
<line x1="277.70" y1="159.60" x2="277.70" y2="161.20" stroke="#000" stroke-width="1.05" />
<line x1="283.17" y1="290.10" x2="283.17" y2="288.50" stroke="#000" stroke-width="1.05" />
<line x1="283.17" y1="159.60" x2="283.17" y2="161.20" stroke="#000" stroke-width="1.05" />
<line x1="287.81" y1="290.10" x2="287.81" y2="288.50" stroke="#000" stroke-width="1.05" />
<line x1="287.81" y1="159.60" x2="287.81" y2="161.20" stroke="#000" stroke-width="1.05" />
<line x1="291.82" y1="290.10" x2="291.82" y2="288.50" stroke="#000" stroke-width="1.05" />
<line x1="291.82" y1="159.60" x2="291.82" y2="161.20" stroke="#000" stroke-width="1.05" />
<line x1="295.36" y1="290.10" x2="295.36" y2="288.50" stroke="#000" stroke-width="1.05" />
<line x1="295.36" y1="159.60" x2="295.36" y2="161.20" stroke="#000" stroke-width="1.05" />
<line x1="319.35" y1="290.10" x2="319.35" y2="288.50" stroke="#000" stroke-width="1.05" />
<line x1="319.35" y1="159.60" x2="319.35" y2="161.20" stroke="#000" stroke-width="1.05" />
<line x1="331.54" y1="290.10" x2="331.54" y2="288.50" stroke="#000" stroke-width="1.05" />
<line x1="331.54" y1="159.60" x2="331.54" y2="161.20" stroke="#000" stroke-width="1.05" />
<line x1="340.18" y1="290.10" x2="340.18" y2="288.50" stroke="#000" stroke-width="1.05" />
<line x1="340.18" y1="159.60" x2="340.18" y2="161.20" stroke="#000" stroke-width="1.05" />
<line x1="346.89" y1="290.10" x2="346.89" y2="288.50" stroke="#000" stroke-width="1.05" />
<line x1="346.89" y1="159.60" x2="346.89" y2="161.20" stroke="#000" stroke-width="1.05" />
<line x1="201.80" y1="281.40" x2="203.40" y2="281.40" stroke="#000" stroke-width="1.05" />
<line x1="347.60" y1="281.40" x2="346.00" y2="281.40" stroke="#000" stroke-width="1.05" />
<line x1="201.80" y1="272.70" x2="203.40" y2="272.70" stroke="#000" stroke-width="1.05" />
<line x1="347.60" y1="272.70" x2="346.00" y2="272.70" stroke="#000" stroke-width="1.05" />
<line x1="201.80" y1="264.00" x2="203.40" y2="264.00" stroke="#000" stroke-width="1.05" />
<line x1="347.60" y1="264.00" x2="346.00" y2="264.00" stroke="#000" stroke-width="1.05" />
<line x1="201.80" y1="255.30" x2="203.40" y2="255.30" stroke="#000" stroke-width="1.05" />
<line x1="347.60" y1="255.30" x2="346.00" y2="255.30" stroke="#000" stroke-width="1.05" />
<line x1="201.80" y1="246.60" x2="204.80" y2="246.60" stroke="#000" stroke-width="1.05" />
<line x1="347.60" y1="246.60" x2="344.60" y2="246.60" stroke="#000" stroke-width="1.05" />
<line x1="201.80" y1="237.90" x2="203.40" y2="237.90" stroke="#000" stroke-width="1.05" />
<line x1="347.60" y1="237.90" x2="346.00" y2="237.90" stroke="#000" stroke-width="1.05" />
<line x1="201.80" y1="229.20" x2="203.40" y2="229.20" stroke="#000" stroke-width="1.05" />
<line x1="347.60" y1="229.20" x2="346.00" y2="229.20" stroke="#000" stroke-width="1.05" />
<line x1="201.80" y1="220.50" x2="203.40" y2="220.50" stroke="#000" stroke-width="1.05" />
<line x1="347.60" y1="220.50" x2="346.00" y2="220.50" stroke="#000" stroke-width="1.05" />
<line x1="201.80" y1="211.80" x2="203.40" y2="211.80" stroke="#000" stroke-width="1.05" />
<line x1="347.60" y1="211.80" x2="346.00" y2="211.80" stroke="#000" stroke-width="1.05" />
<line x1="201.80" y1="203.10" x2="204.80" y2="203.10" stroke="#000" stroke-width="1.05" />
<line x1="347.60" y1="203.10" x2="344.60" y2="203.10" stroke="#000" stroke-width="1.05" />
<line x1="201.80" y1="194.40" x2="203.40" y2="194.40" stroke="#000" stroke-width="1.05" />
<line x1="347.60" y1="194.40" x2="346.00" y2="194.40" stroke="#000" stroke-width="1.05" />
<line x1="201.80" y1="185.70" x2="203.40" y2="185.70" stroke="#000" stroke-width="1.05" />
<line x1="347.60" y1="185.70" x2="346.00" y2="185.70" stroke="#000" stroke-width="1.05" />
<line x1="201.80" y1="177.00" x2="203.40" y2="177.00" stroke="#000" stroke-width="1.05" />
<line x1="347.60" y1="177.00" x2="346.00" y2="177.00" stroke="#000" stroke-width="1.05" />
<line x1="201.80" y1="168.30" x2="203.40" y2="168.30" stroke="#000" stroke-width="1.05" />
<line x1="347.60" y1="168.30" x2="346.00" y2="168.30" stroke="#000" stroke-width="1.05" />
<g clip-path="url(#cL11)" fill="none" stroke-width="1.45" stroke-linejoin="miter" stroke-linecap="butt">
<polyline points="201.80,202.90 222.63,200.60 243.46,214.80 264.29,229.00 285.11,244.00 305.94,268.70 326.77,290.10 347.60,290.10" stroke="#ff0000"/>
<polyline points="201.80,203.20 222.63,205.50 243.46,216.40 264.29,226.10 285.11,242.00 305.94,267.50 326.77,290.10 347.60,290.10" stroke="#ff0000" stroke-dasharray="7.4 8.3"/>
<polyline points="201.80,202.90 222.63,199.20 243.46,205.70 264.29,221.30 285.11,238.70 305.94,266.50 326.77,290.10 347.60,290.10" stroke="#0000ff" stroke-dasharray="7.4 8.3"/>
<polyline points="201.80,202.90 222.63,199.00 243.46,216.50 264.29,231.00 285.11,248.50 305.94,271.00 326.77,290.10 347.60,290.10" stroke="#000" stroke-dasharray="7.4 8.3"/>
<polyline points="201.80,202.90 222.63,202.90 243.46,218.80 264.29,236.60 285.11,246.90 305.94,268.20 326.77,290.10 347.60,290.10" stroke="#0000ff"/>
<polyline points="201.80,202.90 222.63,192.40 243.46,190.00 264.29,196.00 285.11,215.40 305.94,255.20 326.77,290.10 347.60,290.10" stroke="#000"/>
</g>
<rect x="404.30" y="159.60" width="145.20" height="130.50" fill="none" stroke="#000" stroke-width="1.35"/>
<line x1="501.10" y1="290.10" x2="501.10" y2="287.10" stroke="#000" stroke-width="1.05" />
<line x1="501.10" y1="159.60" x2="501.10" y2="162.60" stroke="#000" stroke-width="1.05" />
<line x1="433.44" y1="290.10" x2="433.44" y2="288.50" stroke="#000" stroke-width="1.05" />
<line x1="433.44" y1="159.60" x2="433.44" y2="161.20" stroke="#000" stroke-width="1.05" />
<line x1="450.49" y1="290.10" x2="450.49" y2="288.50" stroke="#000" stroke-width="1.05" />
<line x1="450.49" y1="159.60" x2="450.49" y2="161.20" stroke="#000" stroke-width="1.05" />
<line x1="462.58" y1="290.10" x2="462.58" y2="288.50" stroke="#000" stroke-width="1.05" />
<line x1="462.58" y1="159.60" x2="462.58" y2="161.20" stroke="#000" stroke-width="1.05" />
<line x1="471.96" y1="290.10" x2="471.96" y2="288.50" stroke="#000" stroke-width="1.05" />
<line x1="471.96" y1="159.60" x2="471.96" y2="161.20" stroke="#000" stroke-width="1.05" />
<line x1="479.63" y1="290.10" x2="479.63" y2="288.50" stroke="#000" stroke-width="1.05" />
<line x1="479.63" y1="159.60" x2="479.63" y2="161.20" stroke="#000" stroke-width="1.05" />
<line x1="486.11" y1="290.10" x2="486.11" y2="288.50" stroke="#000" stroke-width="1.05" />
<line x1="486.11" y1="159.60" x2="486.11" y2="161.20" stroke="#000" stroke-width="1.05" />
<line x1="491.72" y1="290.10" x2="491.72" y2="288.50" stroke="#000" stroke-width="1.05" />
<line x1="491.72" y1="159.60" x2="491.72" y2="161.20" stroke="#000" stroke-width="1.05" />
<line x1="496.67" y1="290.10" x2="496.67" y2="288.50" stroke="#000" stroke-width="1.05" />
<line x1="496.67" y1="159.60" x2="496.67" y2="161.20" stroke="#000" stroke-width="1.05" />
<line x1="530.24" y1="290.10" x2="530.24" y2="288.50" stroke="#000" stroke-width="1.05" />
<line x1="530.24" y1="159.60" x2="530.24" y2="161.20" stroke="#000" stroke-width="1.05" />
<line x1="547.29" y1="290.10" x2="547.29" y2="288.50" stroke="#000" stroke-width="1.05" />
<line x1="547.29" y1="159.60" x2="547.29" y2="161.20" stroke="#000" stroke-width="1.05" />
<line x1="404.30" y1="281.40" x2="405.90" y2="281.40" stroke="#000" stroke-width="1.05" />
<line x1="549.50" y1="281.40" x2="547.90" y2="281.40" stroke="#000" stroke-width="1.05" />
<line x1="404.30" y1="272.70" x2="405.90" y2="272.70" stroke="#000" stroke-width="1.05" />
<line x1="549.50" y1="272.70" x2="547.90" y2="272.70" stroke="#000" stroke-width="1.05" />
<line x1="404.30" y1="264.00" x2="405.90" y2="264.00" stroke="#000" stroke-width="1.05" />
<line x1="549.50" y1="264.00" x2="547.90" y2="264.00" stroke="#000" stroke-width="1.05" />
<line x1="404.30" y1="255.30" x2="405.90" y2="255.30" stroke="#000" stroke-width="1.05" />
<line x1="549.50" y1="255.30" x2="547.90" y2="255.30" stroke="#000" stroke-width="1.05" />
<line x1="404.30" y1="246.60" x2="407.30" y2="246.60" stroke="#000" stroke-width="1.05" />
<line x1="549.50" y1="246.60" x2="546.50" y2="246.60" stroke="#000" stroke-width="1.05" />
<line x1="404.30" y1="237.90" x2="405.90" y2="237.90" stroke="#000" stroke-width="1.05" />
<line x1="549.50" y1="237.90" x2="547.90" y2="237.90" stroke="#000" stroke-width="1.05" />
<line x1="404.30" y1="229.20" x2="405.90" y2="229.20" stroke="#000" stroke-width="1.05" />
<line x1="549.50" y1="229.20" x2="547.90" y2="229.20" stroke="#000" stroke-width="1.05" />
<line x1="404.30" y1="220.50" x2="405.90" y2="220.50" stroke="#000" stroke-width="1.05" />
<line x1="549.50" y1="220.50" x2="547.90" y2="220.50" stroke="#000" stroke-width="1.05" />
<line x1="404.30" y1="211.80" x2="405.90" y2="211.80" stroke="#000" stroke-width="1.05" />
<line x1="549.50" y1="211.80" x2="547.90" y2="211.80" stroke="#000" stroke-width="1.05" />
<line x1="404.30" y1="203.10" x2="407.30" y2="203.10" stroke="#000" stroke-width="1.05" />
<line x1="549.50" y1="203.10" x2="546.50" y2="203.10" stroke="#000" stroke-width="1.05" />
<line x1="404.30" y1="194.40" x2="405.90" y2="194.40" stroke="#000" stroke-width="1.05" />
<line x1="549.50" y1="194.40" x2="547.90" y2="194.40" stroke="#000" stroke-width="1.05" />
<line x1="404.30" y1="185.70" x2="405.90" y2="185.70" stroke="#000" stroke-width="1.05" />
<line x1="549.50" y1="185.70" x2="547.90" y2="185.70" stroke="#000" stroke-width="1.05" />
<line x1="404.30" y1="177.00" x2="405.90" y2="177.00" stroke="#000" stroke-width="1.05" />
<line x1="549.50" y1="177.00" x2="547.90" y2="177.00" stroke="#000" stroke-width="1.05" />
<line x1="404.30" y1="168.30" x2="405.90" y2="168.30" stroke="#000" stroke-width="1.05" />
<line x1="549.50" y1="168.30" x2="547.90" y2="168.30" stroke="#000" stroke-width="1.05" />
<g clip-path="url(#cR10)" fill="none" stroke-width="1.45" stroke-linejoin="miter" stroke-linecap="butt">
<polyline points="404.30,202.90 452.70,210.70 501.10,219.30 549.50,236.40" stroke="#ff0000"/>
<polyline points="404.30,202.90 452.70,207.30 501.10,216.50 549.50,235.80" stroke="#ff0000" stroke-dasharray="7.4 8.3"/>
<polyline points="404.30,202.90 452.70,209.20 501.10,217.50 549.50,233.20" stroke="#0000ff" stroke-dasharray="7.4 8.3"/>
<polyline points="404.30,202.90 452.70,199.50 501.10,208.70 549.50,229.40" stroke="#000" stroke-dasharray="7.4 8.3"/>
<polyline points="404.30,202.90 452.70,211.00 501.10,233.30 549.50,245.90" stroke="#0000ff"/>
<polyline points="404.30,202.90 452.70,202.50 501.10,192.10 549.50,176.40" stroke="#000"/>
</g>
<rect x="552.80" y="159.60" width="145.40" height="130.50" fill="none" stroke="#000" stroke-width="1.35"/>
<line x1="649.73" y1="290.10" x2="649.73" y2="287.10" stroke="#000" stroke-width="1.05" />
<line x1="649.73" y1="159.60" x2="649.73" y2="162.60" stroke="#000" stroke-width="1.05" />
<line x1="581.98" y1="290.10" x2="581.98" y2="288.50" stroke="#000" stroke-width="1.05" />
<line x1="581.98" y1="159.60" x2="581.98" y2="161.20" stroke="#000" stroke-width="1.05" />
<line x1="599.05" y1="290.10" x2="599.05" y2="288.50" stroke="#000" stroke-width="1.05" />
<line x1="599.05" y1="159.60" x2="599.05" y2="161.20" stroke="#000" stroke-width="1.05" />
<line x1="611.16" y1="290.10" x2="611.16" y2="288.50" stroke="#000" stroke-width="1.05" />
<line x1="611.16" y1="159.60" x2="611.16" y2="161.20" stroke="#000" stroke-width="1.05" />
<line x1="620.55" y1="290.10" x2="620.55" y2="288.50" stroke="#000" stroke-width="1.05" />
<line x1="620.55" y1="159.60" x2="620.55" y2="161.20" stroke="#000" stroke-width="1.05" />
<line x1="628.23" y1="290.10" x2="628.23" y2="288.50" stroke="#000" stroke-width="1.05" />
<line x1="628.23" y1="159.60" x2="628.23" y2="161.20" stroke="#000" stroke-width="1.05" />
<line x1="634.72" y1="290.10" x2="634.72" y2="288.50" stroke="#000" stroke-width="1.05" />
<line x1="634.72" y1="159.60" x2="634.72" y2="161.20" stroke="#000" stroke-width="1.05" />
<line x1="640.34" y1="290.10" x2="640.34" y2="288.50" stroke="#000" stroke-width="1.05" />
<line x1="640.34" y1="159.60" x2="640.34" y2="161.20" stroke="#000" stroke-width="1.05" />
<line x1="645.30" y1="290.10" x2="645.30" y2="288.50" stroke="#000" stroke-width="1.05" />
<line x1="645.30" y1="159.60" x2="645.30" y2="161.20" stroke="#000" stroke-width="1.05" />
<line x1="678.91" y1="290.10" x2="678.91" y2="288.50" stroke="#000" stroke-width="1.05" />
<line x1="678.91" y1="159.60" x2="678.91" y2="161.20" stroke="#000" stroke-width="1.05" />
<line x1="695.98" y1="290.10" x2="695.98" y2="288.50" stroke="#000" stroke-width="1.05" />
<line x1="695.98" y1="159.60" x2="695.98" y2="161.20" stroke="#000" stroke-width="1.05" />
<line x1="552.80" y1="281.40" x2="554.40" y2="281.40" stroke="#000" stroke-width="1.05" />
<line x1="698.20" y1="281.40" x2="696.60" y2="281.40" stroke="#000" stroke-width="1.05" />
<line x1="552.80" y1="272.70" x2="554.40" y2="272.70" stroke="#000" stroke-width="1.05" />
<line x1="698.20" y1="272.70" x2="696.60" y2="272.70" stroke="#000" stroke-width="1.05" />
<line x1="552.80" y1="264.00" x2="554.40" y2="264.00" stroke="#000" stroke-width="1.05" />
<line x1="698.20" y1="264.00" x2="696.60" y2="264.00" stroke="#000" stroke-width="1.05" />
<line x1="552.80" y1="255.30" x2="554.40" y2="255.30" stroke="#000" stroke-width="1.05" />
<line x1="698.20" y1="255.30" x2="696.60" y2="255.30" stroke="#000" stroke-width="1.05" />
<line x1="552.80" y1="246.60" x2="555.80" y2="246.60" stroke="#000" stroke-width="1.05" />
<line x1="698.20" y1="246.60" x2="695.20" y2="246.60" stroke="#000" stroke-width="1.05" />
<line x1="552.80" y1="237.90" x2="554.40" y2="237.90" stroke="#000" stroke-width="1.05" />
<line x1="698.20" y1="237.90" x2="696.60" y2="237.90" stroke="#000" stroke-width="1.05" />
<line x1="552.80" y1="229.20" x2="554.40" y2="229.20" stroke="#000" stroke-width="1.05" />
<line x1="698.20" y1="229.20" x2="696.60" y2="229.20" stroke="#000" stroke-width="1.05" />
<line x1="552.80" y1="220.50" x2="554.40" y2="220.50" stroke="#000" stroke-width="1.05" />
<line x1="698.20" y1="220.50" x2="696.60" y2="220.50" stroke="#000" stroke-width="1.05" />
<line x1="552.80" y1="211.80" x2="554.40" y2="211.80" stroke="#000" stroke-width="1.05" />
<line x1="698.20" y1="211.80" x2="696.60" y2="211.80" stroke="#000" stroke-width="1.05" />
<line x1="552.80" y1="203.10" x2="555.80" y2="203.10" stroke="#000" stroke-width="1.05" />
<line x1="698.20" y1="203.10" x2="695.20" y2="203.10" stroke="#000" stroke-width="1.05" />
<line x1="552.80" y1="194.40" x2="554.40" y2="194.40" stroke="#000" stroke-width="1.05" />
<line x1="698.20" y1="194.40" x2="696.60" y2="194.40" stroke="#000" stroke-width="1.05" />
<line x1="552.80" y1="185.70" x2="554.40" y2="185.70" stroke="#000" stroke-width="1.05" />
<line x1="698.20" y1="185.70" x2="696.60" y2="185.70" stroke="#000" stroke-width="1.05" />
<line x1="552.80" y1="177.00" x2="554.40" y2="177.00" stroke="#000" stroke-width="1.05" />
<line x1="698.20" y1="177.00" x2="696.60" y2="177.00" stroke="#000" stroke-width="1.05" />
<line x1="552.80" y1="168.30" x2="554.40" y2="168.30" stroke="#000" stroke-width="1.05" />
<line x1="698.20" y1="168.30" x2="696.60" y2="168.30" stroke="#000" stroke-width="1.05" />
<g clip-path="url(#cR11)" fill="none" stroke-width="1.45" stroke-linejoin="miter" stroke-linecap="butt">
<polyline points="552.80,203.20 601.27,229.50 649.73,263.40 698.20,290.10" stroke="#ff0000"/>
<polyline points="552.80,203.20 601.27,215.00 649.73,255.80 698.20,290.10" stroke="#ff0000" stroke-dasharray="7.4 8.3"/>
<polyline points="552.80,203.20 601.27,226.50 649.73,260.50 698.20,290.10" stroke="#0000ff" stroke-dasharray="7.4 8.3"/>
<polyline points="552.80,203.20 601.27,214.50 649.73,259.80 698.20,290.10" stroke="#000" stroke-dasharray="7.4 8.3"/>
<polyline points="552.80,203.20 601.27,220.80 649.73,268.00 698.20,290.10" stroke="#0000ff"/>
<polyline points="552.80,203.20 601.27,212.40 649.73,247.40 698.20,290.10" stroke="#000"/>
</g>
<line x1="60.20" y1="133.90" x2="85.00" y2="133.90" stroke="#000" stroke-width="1.4" />
<line x1="60.20" y1="147.20" x2="67.90" y2="147.20" stroke="#000" stroke-width="1.4" />
<line x1="76.00" y1="147.20" x2="84.00" y2="147.20" stroke="#000" stroke-width="1.4" />
<text transform="matrix(1.189 0 0 1.025 31.21 33.70)" font-size="12" stroke="#000" stroke-width="0.15">1.5</text>
<text transform="matrix(1.211 0 0 1.022 31.19 73.90)" font-size="12" stroke="#000" stroke-width="0.15">1.0</text>
<text transform="matrix(1.228 0 0 1.009 30.94 116.80)" font-size="12" stroke="#000" stroke-width="0.15">0.5</text>
<text transform="matrix(1.221 0 0 1.009 31.24 156.30)" font-size="12" stroke="#000" stroke-width="0.15">0.0</text>
<text transform="matrix(1.189 0 0 1.025 31.21 167.60)" font-size="12" stroke="#000" stroke-width="0.15">1.5</text>
<text transform="matrix(1.211 0 0 1.022 31.19 207.80)" font-size="12" stroke="#000" stroke-width="0.15">1.0</text>
<text transform="matrix(1.228 0 0 1.009 30.94 250.70)" font-size="12" stroke="#000" stroke-width="0.15">0.5</text>
<text transform="matrix(1.221 0 0 1.009 31.24 290.20)" font-size="12" stroke="#000" stroke-width="0.15">0.0</text>
<text transform="matrix(1.189 0 0 1.025 382.21 33.70)" font-size="12" stroke="#000" stroke-width="0.15">1.5</text>
<text transform="matrix(1.211 0 0 1.022 382.19 73.90)" font-size="12" stroke="#000" stroke-width="0.15">1.0</text>
<text transform="matrix(1.228 0 0 1.009 381.94 116.80)" font-size="12" stroke="#000" stroke-width="0.15">0.5</text>
<text transform="matrix(1.221 0 0 1.009 382.24 156.30)" font-size="12" stroke="#000" stroke-width="0.15">0.0</text>
<text transform="matrix(1.189 0 0 1.025 382.21 167.60)" font-size="12" stroke="#000" stroke-width="0.15">1.5</text>
<text transform="matrix(1.211 0 0 1.022 382.19 207.80)" font-size="12" stroke="#000" stroke-width="0.15">1.0</text>
<text transform="matrix(1.228 0 0 1.009 381.94 250.70)" font-size="12" stroke="#000" stroke-width="0.15">0.5</text>
<text transform="matrix(1.221 0 0 1.009 382.24 290.20)" font-size="12" stroke="#000" stroke-width="0.15">0.0</text>
<text transform="matrix(1.242 0 0 0.985 73.46 306.90)" font-size="12" stroke="#000" stroke-width="0.15">10</text>
<text transform="matrix(1.173 0 0 0.985 138.73 306.90)" font-size="12" stroke="#000" stroke-width="0.15">100</text>
<text transform="matrix(1.242 0 0 0.985 221.96 306.90)" font-size="12" stroke="#000" stroke-width="0.15">10</text>
<text transform="matrix(1.173 0 0 0.985 287.23 306.90)" font-size="12" stroke="#000" stroke-width="0.15">100</text>
<text transform="matrix(1.164 0 0 0.985 394.86 306.90)" font-size="12" stroke="#000" stroke-width="0.15">0.1</text>
<text transform="matrix(1.240 0 0 0.985 491.66 306.90)" font-size="12" stroke="#000" stroke-width="0.15">1.0</text>
<text transform="matrix(1.164 0 0 0.985 544.26 306.90)" font-size="12" stroke="#000" stroke-width="0.15">0.1</text>
<text transform="matrix(1.240 0 0 0.985 640.16 306.90)" font-size="12" stroke="#000" stroke-width="0.15">1.0</text>
<text transform="matrix(1.060 0 0 1.027 146.30 38.70)" font-size="12" font-style="italic" stroke="#000" stroke-width="0.15">b</text>
<text transform="matrix(1.287 0 0 1.046 158.96 39.38)" font-size="12" stroke="#000" stroke-width="0.15">=</text>
<text transform="matrix(1.200 0 0 0.997 173.95 38.70)" font-size="12" stroke="#000" stroke-width="0.15">0.1</text>
<text transform="matrix(1.060 0 0 1.027 295.30 38.70)" font-size="12" font-style="italic" stroke="#000" stroke-width="0.15">b</text>
<text transform="matrix(1.287 0 0 1.046 307.96 39.38)" font-size="12" stroke="#000" stroke-width="0.15">=</text>
<text transform="matrix(1.256 0 0 0.997 323.03 38.70)" font-size="12" stroke="#000" stroke-width="0.15">0.3</text>
<text transform="matrix(1.060 0 0 1.027 146.30 172.60)" font-size="12" font-style="italic" stroke="#000" stroke-width="0.15">b</text>
<text transform="matrix(1.287 0 0 1.046 158.96 173.28)" font-size="12" stroke="#000" stroke-width="0.15">=</text>
<text transform="matrix(1.255 0 0 0.997 174.04 172.60)" font-size="12" stroke="#000" stroke-width="0.15">1.0</text>
<text transform="matrix(1.060 0 0 1.027 295.30 172.60)" font-size="12" font-style="italic" stroke="#000" stroke-width="0.15">b</text>
<text transform="matrix(1.287 0 0 1.046 307.96 173.28)" font-size="12" stroke="#000" stroke-width="0.15">=</text>
<text transform="matrix(1.290 0 0 1.012 322.55 172.60)" font-size="12" stroke="#000" stroke-width="0.15">3.2</text>
<text transform="matrix(1.283 0 0 1.054 498.54 38.70)" font-size="12" font-style="italic" stroke="#000" stroke-width="0.08">T</text>
<text transform="matrix(1.172 0 0 1.013 506.61 41.90)" font-size="8" font-weight="bold">ex</text>
<text transform="matrix(1.252 0 0 1.046 521.57 39.38)" font-size="12" stroke="#000" stroke-width="0.15">=</text>
<text transform="matrix(1.172 0 0 1.045 536.31 38.70)" font-size="12" font-weight="bold" stroke="#fff" stroke-width="0.2">4</text>
<text transform="matrix(1.283 0 0 1.054 640.34 38.70)" font-size="12" font-style="italic" stroke="#000" stroke-width="0.08">T</text>
<text transform="matrix(1.172 0 0 1.013 648.41 41.90)" font-size="8" font-weight="bold">ex</text>
<text transform="matrix(1.252 0 0 1.046 663.37 39.38)" font-size="12" stroke="#000" stroke-width="0.15">=</text>
<text transform="matrix(1.172 0 0 1.013 678.13 38.70)" font-size="12" stroke="#000" stroke-width="0.15">16</text>
<text transform="matrix(1.283 0 0 1.054 491.14 172.60)" font-size="12" font-style="italic" stroke="#000" stroke-width="0.08">T</text>
<text transform="matrix(1.172 0 0 1.013 499.21 175.80)" font-size="8" font-weight="bold">ex</text>
<text transform="matrix(1.252 0 0 1.046 514.17 173.28)" font-size="12" stroke="#000" stroke-width="0.15">=</text>
<text transform="matrix(1.165 0 0 1.012 529.16 172.60)" font-size="12" stroke="#000" stroke-width="0.15">64</text>
<text transform="matrix(1.283 0 0 1.054 632.54 172.60)" font-size="12" font-style="italic" stroke="#000" stroke-width="0.08">T</text>
<text transform="matrix(1.172 0 0 1.013 640.61 175.80)" font-size="8" font-weight="bold">ex</text>
<text transform="matrix(1.252 0 0 1.046 655.67 173.28)" font-size="12" stroke="#000" stroke-width="0.15">=</text>
<text transform="matrix(1.217 0 0 1.012 670.49 172.60)" font-size="12" stroke="#000" stroke-width="0.15">256</text>
<text transform="matrix(1.143 0 0 1.067 88.09 132.80)" font-size="8" font-weight="bold">12</text>
<text transform="matrix(0.839 0 0 1.040 97.28 137.94)" font-size="12" font-family="'Liberation Sans', sans-serif" stroke="#000" stroke-width="0.15">C</text>
<text transform="matrix(1.123 0 0 1.067 88.10 145.90)" font-size="8" font-weight="bold">13</text>
<text transform="matrix(0.839 0 0 1.040 97.28 151.04)" font-size="12" font-family="'Liberation Sans', sans-serif" stroke="#000" stroke-width="0.15">C</text>
<text transform="matrix(1.213 0 0 0.933 206.10 124.50)" font-size="12" font-weight="bold" stroke="#fff" stroke-width="0.22">black:</text>
<text transform="matrix(1.179 0 0 1.010 250.26 119.90)" font-size="8" font-weight="bold">16</text>
<text transform="matrix(0.836 0 0 0.971 259.68 124.66)" font-size="12" font-family="'Liberation Sans', sans-serif" stroke="#000" stroke-width="0.15">O</text>
<text transform="matrix(1.220 0 0 0.933 213.19 137.40)" font-size="12" font-weight="bold" stroke="#fff" stroke-width="0.22" fill="#0000ff">blue:</text>
<text transform="matrix(1.151 0 0 0.990 250.28 132.80)" font-size="8" font-weight="bold" fill="#0000ff">17</text>
<text transform="matrix(0.836 0 0 0.971 259.68 137.66)" font-size="12" font-family="'Liberation Sans', sans-serif" stroke="#0000ff" stroke-width="0.15" fill="#0000ff">O</text>
<text transform="matrix(1.205 0 0 0.933 219.45 150.40)" font-size="12" font-weight="bold" stroke="#fff" stroke-width="0.22" fill="#ff0000">red:</text>
<text transform="matrix(1.151 0 0 0.949 250.28 145.80)" font-size="8" font-weight="bold" fill="#ff0000">18</text>
<text transform="matrix(0.836 0 0 0.971 259.68 150.76)" font-size="12" font-family="'Liberation Sans', sans-serif" stroke="#ff0000" stroke-width="0.15" fill="#ff0000">O</text>
<text transform="matrix(1.223 0 0 1.079 167.18 323.10)" font-size="12" font-style="italic" stroke="#000" stroke-width="0.08">T</text>
<text transform="matrix(1.145 0 0 1.006 175.21 325.77)" font-size="8" font-weight="bold">ex</text>
<text transform="matrix(0.912 0 0 1.019 188.74 323.00)" font-size="11" font-family="'Liberation Sans', sans-serif" stroke="#000" stroke-width="0.15">C</text>
<text transform="matrix(0.852 0 0 1.019 196.97 323.00)" font-size="11" font-family="'Liberation Sans', sans-serif" stroke="#000" stroke-width="0.15">O</text>
<text transform="matrix(0.956 0 0 1.079 220.96 323.10)" font-size="12" font-weight="bold">K</text>
<text transform="matrix(0.964 0 0 1.082 506.36 323.10)" font-size="12" font-style="italic" stroke="#000" stroke-width="0.3">b</text>
<text transform="matrix(0.912 0 0 1.019 517.74 323.00)" font-size="11" font-family="'Liberation Sans', sans-serif" stroke="#000" stroke-width="0.15">C</text>
<text transform="matrix(0.839 0 0 1.019 525.78 323.00)" font-size="11" font-family="'Liberation Sans', sans-serif" stroke="#000" stroke-width="0.15">O</text>
<text transform="matrix(1.194 0 0 1.051 549.90 323.10)" font-size="12" font-weight="bold">km</text>
<text transform="matrix(1.325 0 0 1.061 576.30 323.17)" font-size="12" font-weight="bold">s</text>
<text transform="matrix(1.267 0 0 0.895 587.01 318.20)" font-size="8" font-weight="bold">1</text>
<g transform="translate(0 323.1)"><path d="M187.90 -9.60 Q181.50 -3.45 187.90 2.70 Q184.20 -3.45 187.90 -9.60Z" fill="#000" stroke="#000" stroke-width="0.35" stroke-linejoin="round"/></g>
<g transform="translate(0 323.1)"><path d="M205.80 -9.60 Q212.20 -3.45 205.80 2.70 Q209.50 -3.45 205.80 -9.60Z" fill="#000" stroke="#000" stroke-width="0.35" stroke-linejoin="round"/></g>
<g transform="translate(0 323.1)"><path d="M219.90 -9.60 Q213.30 -3.45 219.90 2.70 Q216.00 -3.45 219.90 -9.60Z" fill="#000" stroke="#000" stroke-width="0.35" stroke-linejoin="round"/></g>
<g transform="translate(0 323.1)"><path d="M231.10 -9.60 Q237.50 -3.45 231.10 2.70 Q234.80 -3.45 231.10 -9.60Z" fill="#000" stroke="#000" stroke-width="0.35" stroke-linejoin="round"/></g>
<g transform="translate(0 323.1)"><path d="M516.50 -9.60 Q509.70 -3.45 516.50 2.70 Q512.40 -3.45 516.50 -9.60Z" fill="#000" stroke="#000" stroke-width="0.35" stroke-linejoin="round"/></g>
<g transform="translate(0 323.1)"><path d="M534.30 -9.60 Q540.90 -3.45 534.30 2.70 Q538.20 -3.45 534.30 -9.60Z" fill="#000" stroke="#000" stroke-width="0.35" stroke-linejoin="round"/></g>
<g transform="translate(0 323.1)"><path d="M548.50 -9.60 Q541.70 -3.45 548.50 2.70 Q544.40 -3.45 548.50 -9.60Z" fill="#000" stroke="#000" stroke-width="0.35" stroke-linejoin="round"/></g>
<line x1="583.1" y1="316.3" x2="586.6" y2="316.3" stroke="#000" stroke-width="1.0"/>
<g transform="translate(0 323.1)"><path d="M594.10 -9.60 Q600.90 -3.45 594.10 2.70 Q598.20 -3.45 594.10 -9.60Z" fill="#000" stroke="#000" stroke-width="0.35" stroke-linejoin="round"/></g>
<g transform="translate(21.1 215.8) rotate(-90)"><text transform="matrix(1.183 0 0 1.027 -0.15 0.00)" font-size="12" font-weight="bold" font-style="italic">k</text>
<text transform="matrix(1.050 0 0 1.018 7.87 3.40)" font-size="8" font-weight="bold">i</text>
<text transform="matrix(1.072 0 0 1.092 15.90 0.00)" font-size="12" font-style="italic" stroke="#000" stroke-width="0.08">T</text>
<text transform="matrix(1.062 0 0 1.187 23.83 3.25)" font-size="8" font-weight="bold">ex</text>
<text transform="matrix(0.926 0 0 1.159 33.48 0.03)" font-size="12" font-weight="bold">,</text>
<text transform="matrix(0.893 0 0 1.027 37.67 0.00)" font-size="12" font-style="italic" stroke="#000" stroke-width="0.15">b</text>
<text transform="matrix(1.252 0 0 1.027 57.64 0.00)" font-size="12" font-weight="bold" font-style="italic">k</text>
<text transform="matrix(1.050 0 0 1.018 65.37 3.40)" font-size="8" font-weight="bold">i</text>
<text transform="matrix(1.120 0 0 1.016 73.56 0.00)" font-size="12" font-weight="bold">4</text>
<text transform="matrix(0.789 0 0 1.092 87.10 0.00)" font-size="12" font-weight="bold">K</text>
<text transform="matrix(0.926 0 0 1.159 95.58 0.03)" font-size="12" font-weight="bold">,</text>
<text transform="matrix(0.893 0 0 1.027 105.67 0.00)" font-size="12" font-style="italic" stroke="#000" stroke-width="0.15">b</text>
<path d="M14.80 -10.00 Q7.40 -3.60 14.80 2.80 Q9.70 -3.60 14.80 -10.00Z" fill="#000" stroke="#000" stroke-width="0.35" stroke-linejoin="round"/>
<path d="M44.80 -10.00 Q51.60 -3.60 44.80 2.80 Q49.30 -3.60 44.80 -10.00Z" fill="#000" stroke="#000" stroke-width="0.35" stroke-linejoin="round"/>
<line x1="49.30" y1="2.80" x2="56.70" y2="-10.00" stroke="#000" stroke-width="1.0"/>
<path d="M72.00 -10.00 Q65.80 -3.60 72.00 2.80 Q68.10 -3.60 72.00 -10.00Z" fill="#000" stroke="#000" stroke-width="0.35" stroke-linejoin="round"/>
<path d="M112.80 -10.00 Q119.60 -3.60 112.80 2.80 Q117.30 -3.60 112.80 -10.00Z" fill="#000" stroke="#000" stroke-width="0.35" stroke-linejoin="round"/></g>
<g transform="translate(372.1 243.8) rotate(-90)"><text transform="matrix(1.183 0 0 1.027 -0.15 0.00)" font-size="12" font-weight="bold" font-style="italic">k</text>
<text transform="matrix(1.050 0 0 1.018 7.87 3.40)" font-size="8" font-weight="bold">i</text>
<text transform="matrix(1.072 0 0 1.092 15.90 0.00)" font-size="12" font-style="italic" stroke="#000" stroke-width="0.08">T</text>
<text transform="matrix(1.062 0 0 1.187 23.83 3.25)" font-size="8" font-weight="bold">ex</text>
<text transform="matrix(0.926 0 0 1.159 33.48 0.03)" font-size="12" font-weight="bold">,</text>
<text transform="matrix(0.893 0 0 1.027 37.67 0.00)" font-size="12" font-style="italic" stroke="#000" stroke-width="0.15">b</text>
<text transform="matrix(1.252 0 0 1.027 57.64 0.00)" font-size="12" font-weight="bold" font-style="italic">k</text>
<text transform="matrix(1.050 0 0 1.018 65.37 3.40)" font-size="8" font-weight="bold">i</text>
<text transform="matrix(1.072 0 0 1.092 73.90 0.00)" font-size="12" font-style="italic" stroke="#000" stroke-width="0.08">T</text>
<text transform="matrix(1.062 0 0 1.187 81.83 3.25)" font-size="8" font-weight="bold">ex</text>
<text transform="matrix(0.926 0 0 1.159 90.88 0.03)" font-size="12" font-weight="bold">,</text>
<text transform="matrix(1.143 0 0 1.058 100.57 0.30)" font-size="12" stroke="#000" stroke-width="0.15">0.1</text>
<text transform="matrix(1.175 0 0 1.027 124.91 0.00)" font-size="12" font-weight="bold">km</text>
<text transform="matrix(1.275 0 0 1.096 151.22 0.16)" font-size="12" font-weight="bold">s</text>
<text transform="matrix(1.058 0 0 1.086 157.80 -5.10)" font-size="8" font-weight="bold">&#8722;1</text>
<path d="M14.80 -10.00 Q7.40 -3.60 14.80 2.80 Q9.70 -3.60 14.80 -10.00Z" fill="#000" stroke="#000" stroke-width="0.35" stroke-linejoin="round"/>
<path d="M44.80 -10.00 Q51.60 -3.60 44.80 2.80 Q49.30 -3.60 44.80 -10.00Z" fill="#000" stroke="#000" stroke-width="0.35" stroke-linejoin="round"/>
<line x1="49.30" y1="2.80" x2="56.70" y2="-10.00" stroke="#000" stroke-width="1.0"/>
<path d="M72.00 -10.00 Q65.80 -3.60 72.00 2.80 Q68.10 -3.60 72.00 -10.00Z" fill="#000" stroke="#000" stroke-width="0.35" stroke-linejoin="round"/>
<path d="M169.00 -10.00 Q175.80 -3.60 169.00 2.80 Q173.50 -3.60 169.00 -10.00Z" fill="#000" stroke="#000" stroke-width="0.35" stroke-linejoin="round"/></g>
</svg>
</body></html>
